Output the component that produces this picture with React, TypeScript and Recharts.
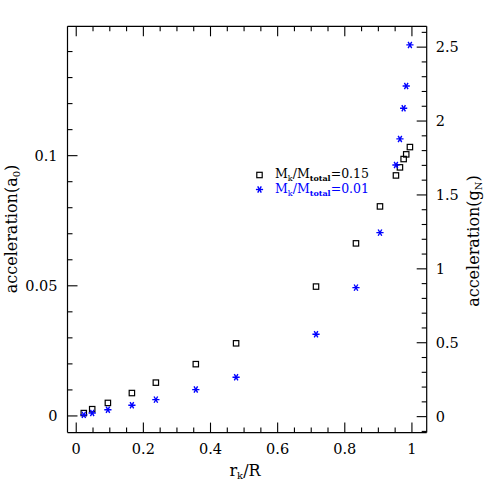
import { ScatterChart, Scatter, XAxis, YAxis, Legend, Label } from "recharts"

// r_k / R for each shell
const radius = [0.0225, 0.0476, 0.0943, 0.1658, 0.2372, 0.3562, 0.4762, 0.7143, 0.8333, 0.9048, 0.9524, 0.9643, 0.9753, 0.983, 0.994]
// M_k/M_total = 0.15, acceleration in a0
const accelHeavy = [0.0011, 0.0026, 0.005, 0.0088, 0.0128, 0.0199, 0.0279, 0.0497, 0.0663, 0.0805, 0.0924, 0.0955, 0.0987, 0.1005, 0.1033]
// M_k/M_total = 0.01, acceleration in g_N
const accelLight = [0.012, 0.025, 0.047, 0.077, 0.115, 0.183, 0.267, 0.557, 0.873, 1.245, 1.703, 1.879, 2.087, 2.237, 2.515]

const xLabels = [0, 0.2, 0.4, 0.6, 0.8, 1]
const leftLabels = [0, 0.05, 0.1]
const rightLabels = [0, 0.5, 1, 1.5, 2, 2.5]

const range = (from: number, to: number, step: number) => {
  const out: number[] = []
  for (let i = 0; from + i * step <= to + 1e-9; i++) out.push(+(from + i * step).toFixed(4))
  return out
}
const xTicks = range(0, 1, 0.05)
const leftTicks = range(0, 0.14, 0.01)
const rightTicks = range(-0.1, 2.6, 0.1)

const heavyData = radius.map((r, i) => ({ r, a: accelHeavy[i] }))
const lightData = radius.map((r, i) => ({ r, g: accelLight[i] }))

const FONT = "DejaVu Serif"
const isMajor = (labels: number[], v: number) => labels.some((l) => Math.abs(l - v) < 1e-6)
const fmt = (v: number) => String(parseFloat(v.toFixed(3)))

const BottomTick = (props: any) => {
  const { x, y, payload } = props
  const major = isMajor(xLabels, payload.value)
  return (
    <g>
      <line x1={x} y1={y} x2={x} y2={y - (major ? 10 : 5)} stroke="#000" strokeWidth={1.1} />
      {major && (
        <text x={x} y={y + 21} textAnchor="middle" fontFamily={FONT} fontSize={14.5} fill="#000">
          {fmt(payload.value)}
        </text>
      )}
    </g>
  )
}

const TopTick = (props: any) => {
  const { x, y, payload } = props
  const major = isMajor(xLabels, payload.value)
  return <line x1={x} y1={y} x2={x} y2={y + (major ? 10 : 5)} stroke="#000" strokeWidth={1.1} />
}

const LeftTick = (props: any) => {
  const { x, y, payload } = props
  const major = isMajor(leftLabels, payload.value)
  return (
    <g>
      <line x1={x} y1={y} x2={x + (major ? 10 : 5)} y2={y} stroke="#000" strokeWidth={1.1} />
      {major && (
        <text x={x - 10} y={y + 5} textAnchor="end" fontFamily={FONT} fontSize={14.5} fill="#000">
          {fmt(payload.value)}
        </text>
      )}
    </g>
  )
}

const RightTick = (props: any) => {
  const { x, y, payload } = props
  const major = isMajor(rightLabels, payload.value)
  return (
    <g>
      <line x1={x} y1={y} x2={x - (major ? 10 : 5)} y2={y} stroke="#000" strokeWidth={1.1} />
      {major && (
        <text x={x + 9} y={y + 5} textAnchor="start" fontFamily={FONT} fontSize={14.5} fill="#000">
          {fmt(payload.value)}
        </text>
      )}
    </g>
  )
}

const Square = (props: any) => {
  const { cx, cy } = props
  return <rect x={cx - 2.7} y={cy - 2.7} width={5.4} height={5.4} fill="none" stroke="#000" strokeWidth={1.2} />
}

const Star = (props: any) => {
  const { cx, cy } = props
  const s = 3.6
  const dx = s * 0.5
  const dy = s * 0.866
  return (
    <g stroke="#0000ff" strokeWidth={1.4}>
      <line x1={cx - s} y1={cy} x2={cx + s} y2={cy} />
      <line x1={cx - dx} y1={cy - dy} x2={cx + dx} y2={cy + dy} />
      <line x1={cx - dx} y1={cy + dy} x2={cx + dx} y2={cy - dy} />
    </g>
  )
}

const legendRows = [
  { value: "0.15", color: "#000", marker: Square },
  { value: "0.01", color: "#0000ff", marker: Star },
]

const LegendBox = () => (
  <svg width={130} height={36} style={{ display: "block" }}>
    {legendRows.map((row, i) => {
      const Marker = row.marker
      const cy = 12 + i * 14.5
      return (
        <g key={row.value}>
          <Marker cx={9.5} cy={cy} />
          <text x={25} y={cy + 3} fontFamily={FONT} fontSize={12.5} fill={row.color}>
            M<tspan fontSize={8} dy={3}>k</tspan>
            <tspan dy={-3}>/M</tspan>
            <tspan fontSize={8} fontWeight="bold" dy={3}>total</tspan>
            <tspan dy={-3}>={row.value}</tspan>
          </text>
        </g>
      )
    })}
  </svg>
)

export default function App() {
  return (
    <div style={{ position: "absolute", left: 0, top: 0, background: "#fff" }}>
      <ScatterChart width={485} height={485} margin={{ top: 25.3, right: 0, bottom: 0, left: 0 }}>
        <XAxis
          xAxisId="b"
          type="number"
          dataKey="r"
          domain={[-0.026, 1.044]}
          allowDataOverflow
          ticks={xTicks}
          interval={0}
          tick={BottomTick}
          tickLine={false}
          tickSize={0}
          tickMargin={0}
          height={52.4}
          axisLine={{ stroke: "#000", strokeWidth: 1.2 }}
        >
          <Label
            content={() => (
              <text x={245} y={476} textAnchor="middle" fontFamily={FONT} fontSize={16} fill="#000">
                r<tspan fontSize={10} dy={3}>k</tspan>
                <tspan dy={-3}>/R</tspan>
              </text>
            )}
          />
        </XAxis>
        <XAxis
          xAxisId="t"
          orientation="top"
          type="number"
          dataKey="r"
          domain={[-0.026, 1.044]}
          allowDataOverflow
          ticks={xTicks}
          interval={0}
          tick={TopTick}
          tickLine={false}
          tickSize={0}
          tickMargin={0}
          height={1}
          axisLine={{ stroke: "#000", strokeWidth: 1.2 }}
        />
        <YAxis
          yAxisId="l"
          type="number"
          domain={[-0.0064, 0.1497]}
          allowDataOverflow
          ticks={leftTicks}
          interval={0}
          tick={LeftTick}
          tickLine={false}
          tickSize={0}
          tickMargin={0}
          width={67.5}
          axisLine={{ stroke: "#000", strokeWidth: 1.2 }}
        >
          <Label
            content={() => (
              <text
                x={17}
                y={229}
                transform="rotate(-90 17 229)"
                textAnchor="middle"
                fontFamily={FONT}
                fontSize={16}
                fill="#000"
              >
                acceleration(a<tspan fontSize={10} dy={3}>0</tspan>
                <tspan dy={-3}>)</tspan>
              </text>
            )}
          />
        </YAxis>
        <YAxis
          yAxisId="r"
          orientation="right"
          type="number"
          domain={[-0.108, 2.641]}
          allowDataOverflow
          ticks={rightTicks}
          interval={0}
          tick={RightTick}
          tickLine={false}
          tickSize={0}
          tickMargin={0}
          width={58.3}
          axisLine={{ stroke: "#000", strokeWidth: 1.2 }}
        >
          <Label
            content={() => (
              <text
                x={479}
                y={241}
                transform="rotate(-90 479 241)"
                textAnchor="middle"
                fontFamily={FONT}
                fontSize={16}
                fill="#000"
              >
                acceleration(g<tspan fontSize={10} dy={3}>N</tspan>
                <tspan dy={-3}>)</tspan>
              </text>
            )}
          />
        </YAxis>
        <Legend
          layout="vertical"
          align="center"
          verticalAlign="middle"
          wrapperStyle={{ left: 250, top: 163, width: 130, height: 36 }}
          content={LegendBox}
        />
        <Scatter
          name="M_k/M_total=0.15"
          data={heavyData}
          xAxisId="b"
          yAxisId="l"
          dataKey="a"
          shape={Square}
          isAnimationActive={false}
        />
        <Scatter
          name="M_k/M_total=0.01"
          data={lightData}
          xAxisId="b"
          yAxisId="r"
          dataKey="g"
          shape={Star}
          isAnimationActive={false}
        />
      </ScatterChart>
    </div>
  )
}
